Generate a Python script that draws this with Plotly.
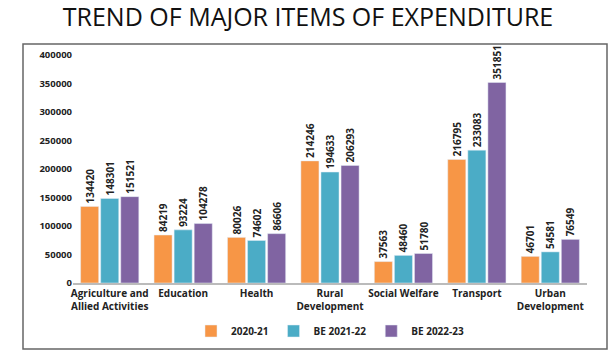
import plotly.graph_objects as go

categories = ["Agriculture and<br>Allied Activities", "Education", "Health", "Rural<br>Development",
              "Social Welfare", "Transport", "Urban<br>Development"]
series_names = ["2020-21", "BE 2021-22", "BE 2022-23"]
v2020 = [134420, 84219, 80026, 214246, 37563, 216795, 46701]
v2021 = [148301, 93224, 74602, 194633, 48460, 233083, 54581]
v2022 = [151521, 104278, 86606, 206293, 51780, 351851, 76549]
y_ticks = [0, 50000, 100000, 150000, 200000, 250000, 300000, 350000, 400000]

colors = ["#F79646", "#4BACC6", "#8064A2"]
font_fam = "Open Sans, Liberation Sans, sans-serif"

fig = go.Figure()
for name, vals, c in zip(series_names, [v2020, v2021, v2022], colors):
    fig.add_trace(go.Bar(
        x=categories, y=vals, name=name, marker_color=c,
        text=[str(v) for v in vals], textposition="outside", textangle=-90,
        textfont=dict(size=10, color="#222", family=font_fam, weight="bold"),
        constraintext="none", cliponaxis=False,
    ))

L, R, T, B = 73, 29, 55, 75
W, H = 616, 358
pw, ph = W - L - R, H - T - B

fig.update_layout(
    width=W, height=H,
    margin=dict(l=L, r=R, t=T, b=B, autoexpand=False),
    paper_bgcolor="white", plot_bgcolor="white",
    barmode="group", bargap=0.18, bargroupgap=0.1,
    title=dict(text="TREND OF MAJOR ITEMS OF EXPENDITURE", x=0.5, xanchor="center",
               y=1 - 17 / H, yanchor="middle",
               font=dict(size=25, color="#111", family=font_fam)),
    legend=dict(orientation="h", x=0.5, xanchor="center", y=(283 - 331) / ph, yanchor="middle",
                font=dict(size=10, color="#222", family=font_fam, weight="bold"),
                itemwidth=30, traceorder="normal"),
    xaxis=dict(showgrid=False, showline=True, linecolor="#BBBBBB", linewidth=1.5, automargin=False,
               tickfont=dict(size=10, color="#222", family=font_fam, weight="bold"), ticks=""),
    yaxis=dict(range=[0, 400000], tickvals=y_ticks, ticktext=[str(t) for t in y_ticks],
               showgrid=False, zeroline=False, showline=False, ticks="", automargin=False,
               tickfont=dict(size=9.5, color="#222", family=font_fam, weight="bold")),
    shapes=[dict(type="rect", xref="paper", yref="paper",
                 x0=(23 - L) / pw, x1=(607 - L) / pw,
                 y0=(283 - 349) / ph, y1=(283 - 44) / ph,
                 line=dict(color="#666", width=1.5), fillcolor="rgba(0,0,0,0)", layer="below")],
)

fig.write_html("out.html", config={"displayModeBar": False},
               post_script="document.body.style.margin='0';document.body.style.overflow='hidden';")
